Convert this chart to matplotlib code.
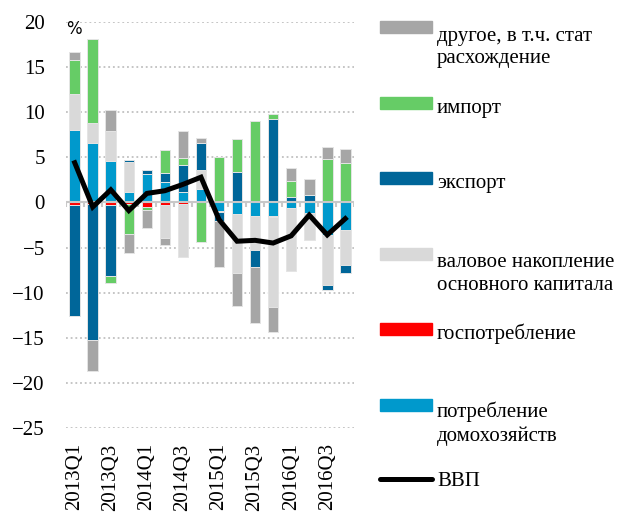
import numpy as np
import matplotlib
matplotlib.use('Agg')
import matplotlib.pyplot as plt
from matplotlib.patches import Rectangle
from matplotlib.lines import Line2D

quarters = ['2013Q1', '2013Q2', '2013Q3', '2013Q4',
            '2014Q1', '2014Q2', '2014Q3', '2014Q4',
            '2015Q1', '2015Q2', '2015Q3', '2015Q4',
            '2016Q1', '2016Q2', '2016Q3', '2016Q4']

# contributions to GDP growth, p.p.
households = [8.0, 6.55, 4.55, 1.15, 3.2, 2.25, 1.15, 1.45,
              -1.0, -1.25, -1.45, -1.45, -0.6, -1.2, -3.65, -3.1]
government = [-0.3, -0.2, -0.3, -0.2, -0.5, -0.3, -0.2, 0.0,
              -0.1, 0.0, 0.0, -0.2, 0.0, 0.0, 0.0, 0.0]
investment = [4.0, 2.3, 3.35, 3.35, 0.0, -3.65, -5.9, 2.1,
              0.0, -6.6, -3.8, -9.9, -7.0, -2.95, -5.55, -3.8]
exports = [-12.25, -15.0, -7.8, 0.15, 0.4, 1.0, 3.05, 3.05,
           -1.0, 3.35, -1.95, 9.2, 0.6, 0.8, -0.5, -0.95]
imports = [3.8, 9.25, -0.8, -3.3, -0.3, 2.6, 0.75, -4.4,
           5.05, 3.7, 9.05, 0.6, 1.75, 0.0, 4.8, 4.35]
other = [0.9, -3.5, 2.35, -2.1, -2.0, -0.75, 2.95, 0.5,
         -5.0, -3.65, -6.2, -2.85, 1.45, 1.85, 1.3, 1.55]
gdp = [4.4, -0.5, 1.4, -0.9, 1.0, 1.3, 2.0, 2.8,
       -1.9, -4.3, -4.2, -4.5, -3.7, -1.4, -3.6, -1.8]

series = [households, government, investment, exports, imports, other]
colors = ['#0099cc', '#ff0000', '#d9d9d9', '#006699', '#66cc66', '#a6a6a6']
labels = ['потребление\nдомохозяйств', 'госпотребление',
          'валовое накопление\nосновного капитала', 'экспорт', 'импорт',
          'другое, в т.ч. стат\nрасхождение']

serif = 'Liberation Serif'
W, H = 638, 515

fig = plt.figure(figsize=(W / 100, H / 100), dpi=100)
ax = fig.add_axes([65.7 / W, 1 - 428 / H, 288.6 / W, 406 / H])

x = np.arange(len(quarters))
pos = np.zeros(len(quarters))
neg = np.zeros(len(quarters))
for vals, c in zip(series, colors):
    v = np.array(vals)
    bottom = np.where(v >= 0, pos, neg)
    ax.bar(x, v, 0.59, bottom=bottom, color=c, edgecolor='#e4e4e4',
           linewidth=0.7, zorder=2)
    pos = pos + np.clip(v, 0, None)
    neg = neg + np.clip(v, None, 0)

ax.plot(x, gdp, color='black', lw=3.6, zorder=4, solid_joinstyle='miter')

# zero line with small tick marks between bars
ax.axhline(0, color='#c8c8c8', lw=1.5, zorder=3)
ax.vlines(np.arange(-0.5, len(quarters)), -0.55, 0, color='#c8c8c8',
          lw=1.5, zorder=3)

ax.set_xlim(-0.5, len(quarters) - 0.5)
ax.set_ylim(-25, 20)
ax.set_yticks(np.arange(-25, 21, 5))
for yv in np.arange(-25, 21, 5):
    if yv != 0:
        ax.axhline(yv, color='#c0c0c0', lw=1.3, ls=(0, (1, 1.6)), zorder=1)
ax.set_xticks(x[::2])
ax.set_xticklabels(quarters[::2], rotation=90, fontfamily=serif, fontsize=15)
ax.tick_params(axis='x', length=0, pad=11)
ax.tick_params(axis='y', length=0, pad=15, labelsize=15)
for t in ax.get_yticklabels():
    t.set_fontfamily(serif)
for s in ax.spines.values():
    s.set_visible(False)

ax.text(-0.48, 20.2, '%', fontsize=12, va='top', ha='left',
        fontfamily='DejaVu Sans')

# legend on the right, drawn by hand to keep the uneven slots
def fx(px):
    return px / W

def fy(py):
    return 1 - py / H

order = [5, 4, 3, 2, 1, 0]
for i, k in enumerate(order):
    top = 21 + i * 75.5
    fig.patches.append(Rectangle((fx(380), fy(top + 12)), 52 / W, 12 / H,
                                 transform=fig.transFigure,
                                 color=colors[k], figure=fig))
    n = labels[k].count('\n')
    # 'baseline' puts the last line on the anchor
    fig.text(fx(437), fy(top + 16 + n * 26), labels[k], fontsize=15,
             fontfamily=serif, va='baseline', ha='left', linespacing=1.25)
fig.lines.append(Line2D([fx(380), fx(432)], [fy(479), fy(479)],
                        transform=fig.transFigure, color='black', lw=3.6,
                        solid_capstyle='round'))
fig.text(fx(437), fy(486), 'ВВП', fontsize=15, fontfamily=serif,
         va='baseline', ha='left')

fig.savefig('out.png', dpi=100)
